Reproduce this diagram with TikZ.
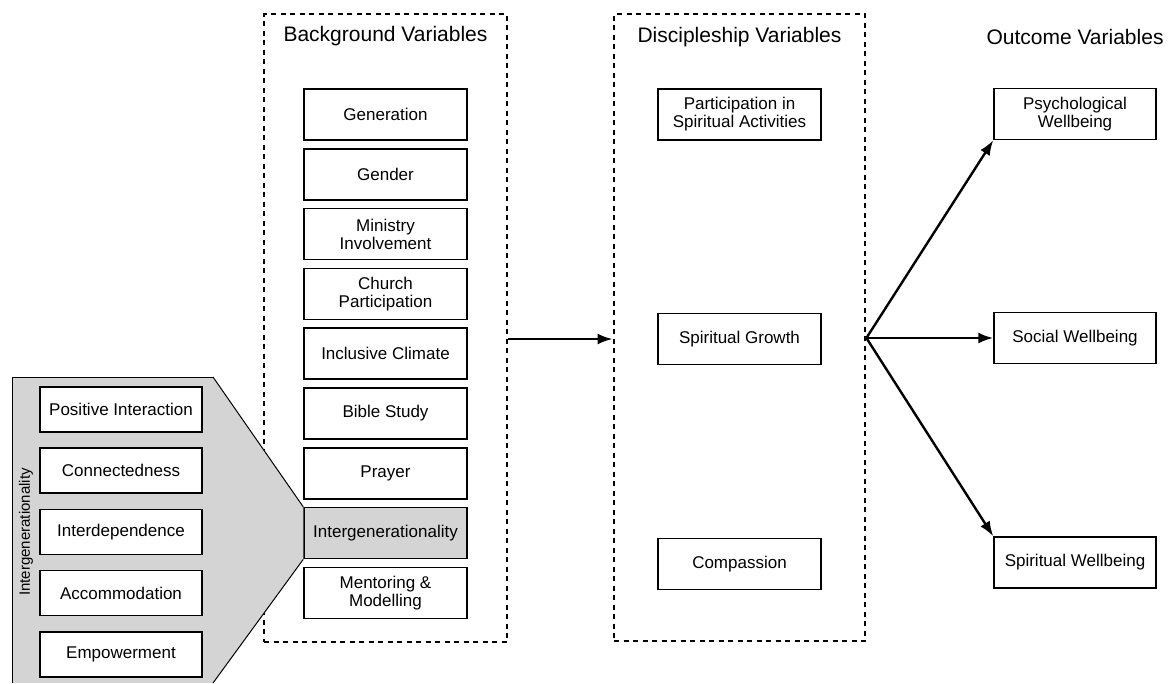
\documentclass[tikz,border=0pt]{standalone}
\usepackage{fontspec}
\setmainfont{Liberation Sans}
\usetikzlibrary{arrows.meta,positioning}

\definecolor{panelgray}{HTML}{D4D4D4}

\tikzset{
  varbox/.style={draw,fill=white,line width=1.5pt,align=center,
    minimum width=163pt,minimum height=51pt,inner sep=2pt,
    font=\fontsize{17}{18}\selectfont},
  subbox/.style={varbox,minimum width=162pt,minimum height=45pt},
  groupbox/.style={draw,line width=2.8pt,dash pattern=on 5pt off 4.5pt},
  heading/.style={font=\fontsize{21}{24}\selectfont},
}

\begin{document}
\begin{tikzpicture}[x=1pt,y=-1pt,>={Latex[length=15pt,width=11pt]},node distance=7.3pt]
  \useasboundingbox (0,0) rectangle (1172,683);

  % background variables
  \node[groupbox,minimum width=243pt,minimum height=628pt] (BG) at (385.5,328) {};
  \node[heading] (BGT) at (385.5,36) {Background Variables};
  \node[varbox] (GEN) at (385.5,114.5) {Generation};
  \node[varbox,below=of GEN] (GDR) {Gender};
  \node[varbox,below=of GDR] (MIN) {Ministry\\Involvement};
  \node[varbox,below=of MIN] (CHP) {Church\\Participation};
  \node[varbox,below=of CHP] (INC) {Inclusive Climate};
  \node[varbox,below=of INC] (BIB) {Bible Study};
  \node[varbox,below=of BIB] (PRY) {Prayer};
  \node[varbox,fill=panelgray,below=of PRY] (ITG) {Intergenerationality};
  \node[varbox,below=of ITG] (MEN) {Mentoring \&\\Modelling};

  % intergenerationality panel
  \filldraw[fill=panelgray,line width=1pt] (12,683) -- (12,377) -- (213,377) -- (213,683);
  \fill[panelgray] (213,377) -- (ITG.north west) -- (ITG.south west) -- (213,683) -- cycle;
  \draw[line width=1pt] (213,377) -- (ITG.north west);
  \draw[line width=1pt] (ITG.south west) -- (213,683);
  \node[rotate=90,font=\fontsize{15}{18}\selectfont] (PNL) at (26,532) {Intergenerationality};
  \node[subbox] (POS) at (121,409.5) {Positive Interaction};
  \node[subbox,below=14.7pt of POS] (CON) {Connectedness};
  \node[subbox,below=14.7pt of CON] (IND) {Interdependence};
  \node[subbox,below=14.7pt of IND] (ACC) {Accommodation};
  \node[subbox,below=14.7pt of ACC] (EMP) {Empowerment};

  % discipleship variables
  \node[groupbox,minimum width=251pt,minimum height=627pt] (DV) at (739.5,327.5) {};
  \node[heading] (DVT) at (739.5,37) {Discipleship Variables};
  \node[varbox] (PSA) at (739.5,114.5) {Participation in\\Spiritual Activities};
  \node[varbox] (SG) at (739.5,339) {Spiritual Growth};
  \node[varbox] (CMP) at (739.5,564) {Compassion};

  % outcome variables
  \node[heading] (OVT) at (1075,37) {Outcome Variables};
  \node[varbox,minimum width=162pt] (PW) at (1075,114) {Psychological\\Wellbeing};
  \node[varbox,minimum width=162pt] (SW) at (1075,338) {Social Wellbeing};
  \node[varbox,minimum width=162pt] (SPW) at (1075,562.5) {Spiritual Wellbeing};

  \coordinate (FAN) at (DV.east |- SW.west);
  \draw[->,line width=2.4pt] (BG.east |- SG) -- (DV.west |- SG);
  \draw[->,line width=2.4pt] (FAN) -- (PW.south west);
  \draw[->,line width=2.4pt] (FAN) -- (SW.west);
  \draw[->,line width=2.4pt] (FAN) -- (SPW.north west);
\end{tikzpicture}
\end{document}
